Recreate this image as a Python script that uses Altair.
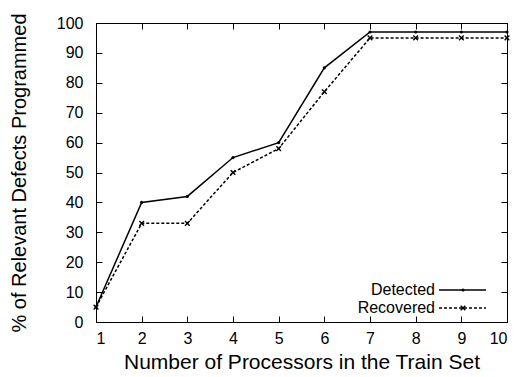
import altair as alt
import pandas as pd

processors = [1, 2, 3, 4, 5, 6, 7, 8, 9, 10]
detected = [5, 40, 42, 55, 60, 85, 97, 97, 97, 97]
recovered = [5, 33, 33, 50, 58, 77, 95, 95, 95, 95]
y_ticks = [0, 10, 20, 30, 40, 50, 60, 70, 80, 90, 100]
legend_labels = ["Detected", "Recovered"]

W, H = 411, 299
FONT = "Liberation Sans"
TK = 6

det_df = pd.DataFrame({"n": processors, "v": detected})
rec_df = pd.DataFrame({"n": processors, "v": recovered})

xs = alt.Scale(domain=[1, 10], nice=False, zero=False)
ys = alt.Scale(domain=[0, 100], nice=False)

# inward ticks on both sides are drawn as dashed grid lines (dash at each end)
xaxis = alt.Axis(values=processors, title="Number of Processors in the Train Set",
                 ticks=False, grid=True, gridColor="black", gridOpacity=1, gridWidth=1,
                 gridDash=[TK, H - 2 * TK], zindex=1,
                 labelPadding=8, labelOverlap=False,
                 titlePadding=5, domainColor="black", labelColor="black",
                 titleColor="black", labelFontSize=16, titleFontSize=21,
                 labelFont=FONT, titleFont=FONT, titleFontWeight="normal")
yaxis = alt.Axis(values=y_ticks, title="% of Relevant Defects Programmed",
                 ticks=False, grid=True, gridColor="black", gridOpacity=1, gridWidth=1,
                 gridDash=[TK, W - 2 * TK], zindex=1,
                 labelPadding=13, labelOverlap=False,
                 titlePadding=27, domainColor="black", labelColor="black",
                 titleColor="black", labelFontSize=16, titleFontSize=20,
                 labelFont=FONT, titleFont=FONT, titleFontWeight="normal")

X = alt.X("n:Q", scale=xs, axis=xaxis)
Y = alt.Y("v:Q", scale=ys, axis=yaxis)

line_det = alt.Chart(det_df).mark_line(color="black", strokeWidth=1.5).encode(x=X, y=Y)
line_rec = alt.Chart(rec_df).mark_line(color="black", strokeWidth=1.5, strokeDash=[3, 2]).encode(x=X, y=Y)
pts_det = alt.Chart(det_df).mark_point(color="black", filled=True, size=10, opacity=1).encode(x=X, y=Y)
xshape = "M-1,-1L1,1M-1,1L1,-1"
pts_rec = alt.Chart(rec_df).mark_point(color="black", shape=xshape, filled=False,
                                       size=22, strokeWidth=1.4, opacity=1).encode(x=X, y=Y)

# legend (inside, bottom right)
LX1, LX2, LXM, LTX = 343, 390, 367, 339
LY1, LY2 = 267, 285
leg_df = pd.DataFrame({"label": legend_labels})
leg_text1 = alt.Chart(leg_df.iloc[[0]]).mark_text(align="right", baseline="middle", fontSize=16,
                                               font=FONT, color="black").encode(
    text="label:N", x=alt.value(LTX), y=alt.value(LY1))
leg_text2 = alt.Chart(leg_df.iloc[[1]]).mark_text(align="right", baseline="middle", fontSize=16,
                                               font=FONT, color="black").encode(
    text="label:N", x=alt.value(LTX), y=alt.value(LY2))
leg_line1 = alt.Chart(leg_df.iloc[[0]]).mark_rule(color="black", strokeWidth=1.5).encode(
    x=alt.value(LX1), x2=alt.value(LX2), y=alt.value(LY1))
leg_line2 = alt.Chart(leg_df.iloc[[1]]).mark_rule(color="black", strokeWidth=1.5, strokeDash=[3, 2]).encode(
    x=alt.value(LX1), x2=alt.value(LX2), y=alt.value(LY2))
leg_pt1 = alt.Chart(leg_df.iloc[[0]]).mark_point(color="black", filled=True, size=10, opacity=1).encode(
    x=alt.value(LXM), y=alt.value(LY1))
leg_pt2 = alt.Chart(leg_df.iloc[[1]]).mark_point(color="black", shape=xshape, filled=False,
                                              size=22, strokeWidth=1.4, opacity=1).encode(
    x=alt.value(LXM), y=alt.value(LY2))

chart = alt.layer(
    line_det, line_rec, pts_det, pts_rec,
    leg_text1, leg_text2, leg_line1, leg_line2, leg_pt1, leg_pt2,
).properties(
    width=W, height=H,
    autosize=alt.AutoSizeParams(type="none"),
    padding={"left": 88, "top": 15, "right": 10, "bottom": 53},
    background="white",
).configure_view(stroke="black", strokeWidth=1)

chart.save("out.html", embed_options={"renderer": "svg", "actions": False})
